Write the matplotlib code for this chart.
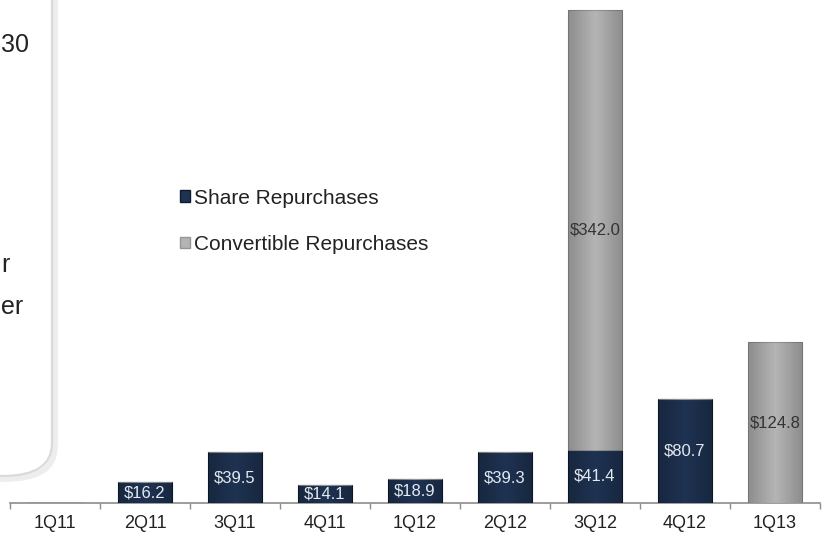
import numpy as np
import matplotlib as mpl
import matplotlib.pyplot as plt
from matplotlib.patches import FancyBboxPatch, Patch

mpl.rcParams["font.family"] = ["Liberation Sans", "DejaVu Sans"]

# Data ($ millions)
quarters = ["1Q11", "2Q11", "3Q11", "4Q11", "1Q12", "2Q12", "3Q12", "4Q12", "1Q13"]
share_rep = [0, 16.2, 39.5, 14.1, 18.9, 39.3, 41.4, 80.7, 0]
conv_rep = [0, 0, 0, 0, 0, 0, 342.0, 0, 124.8]

NAVY = "#1e3251"
GRAY = "#b4b4b4"


def main():
    fig = plt.figure(figsize=(8.26, 5.38), dpi=100)
    W, H = 826, 538

    # cropped side box on the left
    box = FancyBboxPatch((-60 / W, 62 / H), 112 / W, 600 / H,
                         boxstyle="round,pad=0,rounding_size=0.06",
                         transform=fig.transFigure, facecolor="white",
                         edgecolor="#dadada", linewidth=1.6, zorder=1)
    shadow = FancyBboxPatch((-57 / W, 59 / H), 112 / W, 600 / H,
                            boxstyle="round,pad=0,rounding_size=0.06",
                            transform=fig.transFigure, facecolor="none",
                            edgecolor="#ededed", linewidth=4.0, zorder=0.5)
    fig.patches.extend([shadow, box])
    box_txt = dict(fontsize=18, color="#222222", ha="left", va="center")
    fig.text(1 / W, 1 - 45 / H, "30", **box_txt)
    fig.text(1 / W, 1 - 265 / H, "r", **box_txt)
    fig.text(1 / W, 1 - 307 / H, "er", **box_txt)

    ax = fig.add_axes([10 / W, 35 / H, 810 / W, 503 / H])
    ax.set_facecolor("none")
    x = np.arange(len(quarters))
    width = 0.61

    b1 = ax.bar(x, share_rep, width, color=NAVY, edgecolor="#0f1b2e",
                linewidth=0.8, zorder=3)
    b2 = ax.bar(x, conv_rep, width, bottom=share_rep, color=GRAY,
                edgecolor="#959595", linewidth=0.8, zorder=3)

    # soft horizontal shading on bars
    grad = np.linspace(0, 1, 64)
    grad = np.abs(grad - 0.5) * 2
    grad = np.vstack([grad, grad])
    shade = mpl.colors.LinearSegmentedColormap.from_list(
        "sh", [(0, 0, 0, 0), (0, 0, 0, 0.22)])
    for bar in list(b1) + list(b2):
        if bar.get_height() <= 0:
            continue
        x0, y0 = bar.get_x(), bar.get_y()
        im = ax.imshow(grad, extent=[x0, x0 + bar.get_width(), y0, y0 + bar.get_height()],
                       cmap=shade, aspect="auto", zorder=4, interpolation="bilinear")
        im.set_clip_path(bar)

    for xi, v in zip(x, share_rep):
        if v > 0:
            ax.text(xi, v / 2, f"${v:.1f}", ha="center", va="center",
                    fontsize=12, color="#e4e9f1", zorder=5)
    for xi, s, v in zip(x, share_rep, conv_rep):
        if v > 0:
            ax.text(xi, s + v / 2, f"${v:.1f}", ha="center", va="center",
                    fontsize=12, color="#333333", zorder=5)

    ax.set_xlim(-0.5, len(quarters) - 0.5)
    ax.set_ylim(0, 391)
    ax.set_xticks(x)
    ax.set_xticklabels(quarters, fontsize=13, color="#222222")
    ax.tick_params(axis="x", which="major", length=0, pad=9)
    ax.set_xticks(np.arange(-0.5, len(quarters), 1.0), minor=True)
    ax.tick_params(axis="x", which="minor", length=4, width=1, color="#8c8c8c",
                   direction="out")
    ax.set_yticks([])
    for side in ["top", "right", "left"]:
        ax.spines[side].set_visible(False)
    ax.spines["bottom"].set_color("#8c8c8c")
    ax.spines["bottom"].set_linewidth(1.2)

    handles = [Patch(facecolor=NAVY, edgecolor="#0f1b2e"),
               Patch(facecolor=GRAY, edgecolor="#959595")]
    fig.legend(handles, ["Share Repurchases", "Convertible Repurchases"],
               loc="upper left", bbox_to_anchor=(161 / W, 1 - 170 / H),
               frameon=False, fontsize=15, handlelength=0.5, handleheight=0.5,
               handletextpad=0.2, labelspacing=1.3, labelcolor="#222222")

    fig.savefig("out.png", dpi=100)


if __name__ == "__main__":
    main()
